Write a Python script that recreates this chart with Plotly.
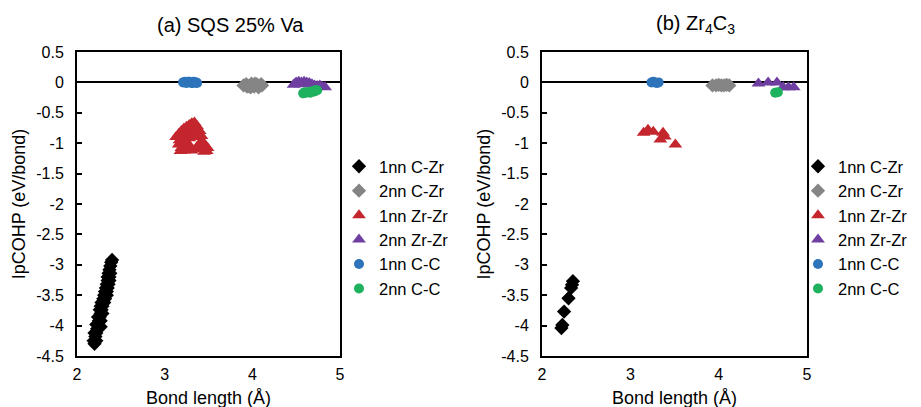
import plotly.graph_objects as go

# ---------------- data ----------------
series_names = ["1nn C-Zr", "2nn C-Zr", "1nn Zr-Zr", "2nn Zr-Zr", "1nn C-C", "2nn C-C"]

# (a) SQS 25% Va
a_czr1_x = [2.20, 2.19, 2.22, 2.21, 2.22, 2.20, 2.23, 2.27, 2.24, 2.22, 2.25, 2.27, 2.26, 2.24,
            2.27, 2.29, 2.28, 2.26, 2.29, 2.27, 2.28, 2.31, 2.30, 2.32, 2.31, 2.34, 2.32, 2.34,
            2.33, 2.35, 2.34, 2.36, 2.35, 2.37, 2.35, 2.37, 2.36, 2.38, 2.37, 2.38, 2.39, 2.40]
a_czr1_y = [-4.30, -4.25, -4.25, -4.18, -4.12, -4.12, -4.05, -4.02, -3.98, -3.98, -3.92, -3.92,
            -3.86, -3.86, -3.80, -3.80, -3.74, -3.74, -3.68, -3.68, -3.62, -3.62, -3.56, -3.56,
            -3.50, -3.50, -3.44, -3.44, -3.38, -3.38, -3.32, -3.32, -3.26, -3.26, -3.20, -3.20,
            -3.14, -3.14, -3.08, -3.02, -2.96, -2.92]
a_czr2_x = [3.90, 3.93, 3.96, 3.99, 4.02, 4.05, 4.08, 4.11, 3.94, 3.98, 4.03, 4.07, 4.10]
a_czr2_y = [-0.05, -0.03, -0.06, -0.02, -0.07, -0.03, -0.06, -0.05, -0.07, -0.08, -0.02, -0.08, -0.03]
a_zrzr1_x = [3.13, 3.16, 3.19, 3.22, 3.25, 3.28, 3.31, 3.34, 3.37, 3.40, 3.42, 3.20, 3.25, 3.30,
             3.35, 3.38, 3.28, 3.23, 3.33, 3.17,
             3.16, 3.19, 3.22, 3.26, 3.29, 3.31, 3.24, 3.18,
             3.40, 3.43, 3.46, 3.49, 3.42, 3.45, 3.48, 3.38]
a_zrzr1_y = [-0.90, -0.85, -0.80, -0.76, -0.73, -0.70, -0.67, -0.66, -0.72, -0.80, -0.88, -0.90,
             -0.85, -0.80, -0.78, -0.90, -0.92, -0.95, -0.88, -0.95,
             -1.02, -1.08, -1.12, -1.10, -1.05, -1.12, -1.00, -1.13,
             -1.00, -0.97, -1.03, -1.08, -1.10, -1.14, -1.13, -1.08]
a_zrzr2_x = [4.47, 4.50, 4.53, 4.56, 4.59, 4.62, 4.65, 4.68, 4.71, 4.74, 4.77, 4.80, 4.83, 4.49, 4.55, 4.72]
a_zrzr2_y = [-0.04, 0.00, 0.01, 0.00, 0.01, 0.00, -0.01, -0.03, -0.05, -0.06, -0.05, -0.07, -0.08, -0.02, -0.03, -0.08]
a_cc1_x = [3.21, 3.23, 3.25, 3.27, 3.29, 3.31, 3.33, 3.35, 3.37, 3.24, 3.28, 3.32, 3.36]
a_cc1_y = [0.00, 0.01, -0.01, 0.01, 0.00, -0.01, 0.01, 0.00, -0.01, 0.00, 0.01, -0.01, 0.00]
a_cc2_x = [4.58, 4.61, 4.64, 4.67, 4.70, 4.72, 4.74, 4.60, 4.66, 4.71]
a_cc2_y = [-0.18, -0.17, -0.16, -0.15, -0.14, -0.13, -0.13, -0.16, -0.17, -0.15]

# (b) Zr4C3
b_czr1_x = [2.35, 2.34, 2.33, 2.30, 2.25, 2.23, 2.22]
b_czr1_y = [-3.27, -3.33, -3.38, -3.55, -3.77, -3.99, -4.04]
b_czr2_x = [3.93, 3.97, 4.00, 4.03, 4.06, 4.09, 4.12]
b_czr2_y = [-0.05, -0.05, -0.04, -0.05, -0.05, -0.04, -0.05]
b_zrzr1_x = [3.15, 3.20, 3.26, 3.37, 3.34, 3.39, 3.51]
b_zrzr1_y = [-0.83, -0.78, -0.81, -0.83, -0.94, -0.89, -1.02]
b_zrzr2_x = [4.45, 4.56, 4.66, 4.73, 4.79, 4.85]
b_zrzr2_y = [-0.02, 0.00, 0.00, -0.08, -0.08, -0.08]
b_cc1_x = [3.24, 3.26, 3.28, 3.30, 3.32]
b_cc1_y = [0.00, 0.01, 0.00, -0.01, 0.00]
b_cc2_x = [4.64, 4.67]
b_cc2_y = [-0.17, -0.16]

colors = ["#000000", "#858585", "#C4262E", "#6E3FA0", "#2D74BA", "#1EB25E"]
symbols = ["diamond", "diamond", "triangle-up", "triangle-up", "circle", "circle"]
sizes = [11, 11, 12, 12, 10, 10]

x_ticks = [2, 3, 4, 5]
y_ticks = [0.5, 0, -0.5, -1, -1.5, -2, -2.5, -3, -3.5, -4, -4.5]
y_tick_text = ["0.5", "0", "-0.5", "-1", "-1.5", "-2", "-2.5", "-3", "-3.5", "-4", "-4.5"]
titles = ["(a) SQS 25% Va", "(b) Zr<sub>4</sub>C<sub>3</sub>"]
x_title = "Bond length (Å)"
y_title = "IpCOHP (eV/bond)"

panels = [
    [(a_czr1_x, a_czr1_y), (a_czr2_x, a_czr2_y), (a_zrzr1_x, a_zrzr1_y),
     (a_zrzr2_x, a_zrzr2_y), (a_cc1_x, a_cc1_y), (a_cc2_x, a_cc2_y)],
    [(b_czr1_x, b_czr1_y), (b_czr2_x, b_czr2_y), (b_zrzr1_x, b_zrzr1_y),
     (b_zrzr2_x, b_zrzr2_y), (b_cc1_x, b_cc1_y), (b_cc2_x, b_cc2_y)],
]

# ---------------- figure ----------------
W, H = 921, 407
OFF = 8  # page body margin offset
FONT = "Liberation Sans, Arial, sans-serif"
fig = go.Figure()

for p, data in enumerate(panels):
    xa = "x" if p == 0 else "x2"
    ya = "y" if p == 0 else "y2"
    lg = "legend" if p == 0 else "legend2"
    for i in range(6):
        xs, ys = data[i]
        fig.add_trace(go.Scatter(
            x=xs, y=ys, mode="markers", name=series_names[i],
            xaxis=xa, yaxis=ya, legend=lg,
            marker=dict(symbol=symbols[i], size=sizes[i], color=colors[i],
                        line=dict(width=0)),
        ))

def px_x(v):
    return (v - OFF) / W

def px_y(v):
    return 1 - (v - OFF) / H

dom_y = [px_y(356), px_y(52)]
axis_common = dict(
    showgrid=False, showline=True, linecolor="black", linewidth=2, mirror=True,
    tickfont=dict(family=FONT, size=16, color="black"), automargin=False,
)
xcommon = dict(axis_common, range=[2, 5], tickvals=x_ticks, ticks="", ticklabelstandoff=3,
               title=dict(text=x_title, font=dict(family=FONT, size=18, color="black"), standoff=9),
               zeroline=False)
ycommon = dict(axis_common, range=[-4.5, 0.5], tickvals=y_ticks, ticktext=y_tick_text,
               ticks="inside", ticklen=5, tickwidth=1.5, tickcolor="black", ticklabelstandoff=8,
               title=dict(text=y_title, font=dict(family=FONT, size=18, color="black"), standoff=6),
               zeroline=True, zerolinecolor="black", zerolinewidth=1.5)

legend_common = dict(yanchor="top", xanchor="left",
                     font=dict(family=FONT, size=16.5, color="black"), bgcolor="rgba(0,0,0,0)",
                     itemwidth=30, tracegroupgap=0, borderwidth=0)

fig.update_layout(
    width=W, height=H,
    margin=dict(l=0, r=0, t=0, b=0, autoexpand=False),
    paper_bgcolor="white", plot_bgcolor="white",
    font=dict(family=FONT, color="black"),
    xaxis=dict(xcommon, domain=[px_x(77), px_x(340)], anchor="y"),
    yaxis=dict(ycommon, domain=dom_y, anchor="x"),
    xaxis2=dict(xcommon, domain=[px_x(542), px_x(807)], anchor="y2"),
    yaxis2=dict(ycommon, domain=dom_y, anchor="x2"),
    legend=dict(legend_common, x=px_x(339), y=px_y(149)),
    legend2=dict(legend_common, x=px_x(798), y=px_y(149)),
    annotations=[
        dict(text=titles[0], x=px_x(230), y=px_y(25), xref="paper", yref="paper",
             xanchor="center", yanchor="middle",
             showarrow=False, font=dict(family=FONT, size=20, color="black")),
        dict(text=titles[1], x=px_x(695), y=px_y(25), xref="paper", yref="paper",
             xanchor="center", yanchor="middle",
             showarrow=False, font=dict(family=FONT, size=20, color="black")),
    ],
)

fig.write_html("out.html")
